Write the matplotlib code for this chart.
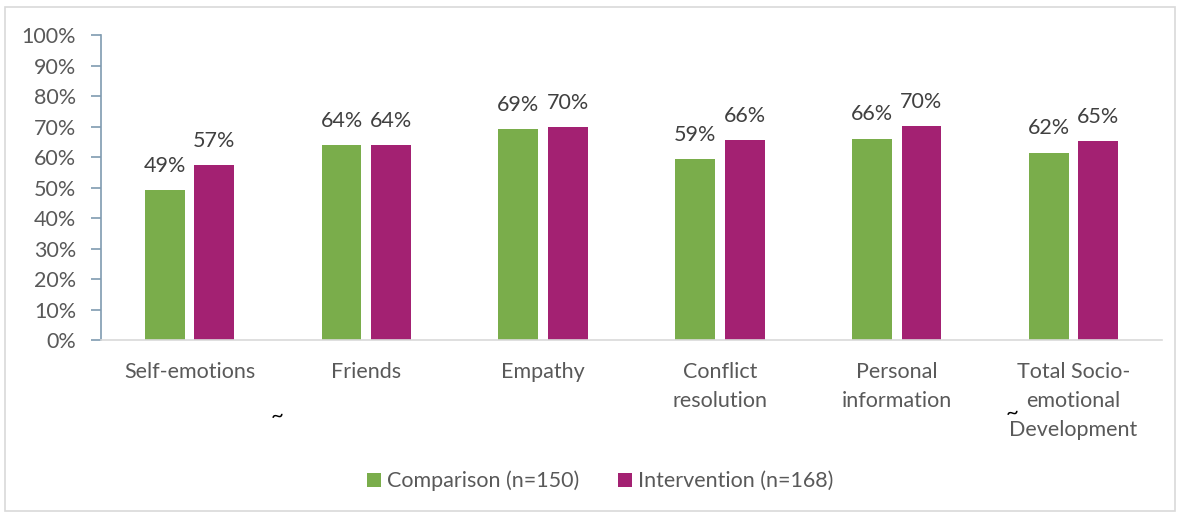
import matplotlib
matplotlib.use('Agg')
import matplotlib.pyplot as plt
import numpy as np
from matplotlib.patches import Rectangle

categories = ['Self-emotions', 'Friends', 'Empathy', 'Conflict\nresolution',
              'Personal\ninformation', 'Total Socio-\nemotional\nDevelopment']
comparison = [49.2, 63.9, 69.1, 59.3, 66.1, 61.5]
intervention = [57.4, 64.0, 69.8, 65.6, 70.2, 65.3]
series_names = ['Comparison (n=150)', 'Intervention (n=168)']
yticks = list(range(0, 101, 10))

GREEN = '#7AAD4B'
PURPLE = '#A32172'
TEXT = '#595959'
FS = 15.5

plt.rcParams['font.family'] = ['Lato', 'DejaVu Sans']

fig = plt.figure(figsize=(11.82, 5.17), dpi=100)
ax = fig.add_axes([0.0855, 0.342, 0.8975, 0.59])

x = np.arange(len(categories))
w = 0.225
off = 0.14
b1 = ax.bar(x - off, comparison, w, color=GREEN, label=series_names[0])
b2 = ax.bar(x + off, intervention, w, color=PURPLE, label=series_names[1])

# value labels above bars
for bars in (b1, b2):
    for r in bars:
        ax.text(r.get_x() + r.get_width() / 2, r.get_height() + 4.7,
                '{:.0f}%'.format(r.get_height()), ha='center', va='bottom',
                fontsize=FS, color='#404040')

ax.set_xlim(-0.5, len(categories) - 0.5)
ax.set_ylim(0, 100)
ax.set_yticks(yticks)
ax.set_yticklabels(['{}%'.format(v) for v in yticks])
ax.set_xticks(x)
ax.set_xticklabels(categories, linespacing=1.55)
ax.tick_params(axis='y', length=7, width=1.2, color='#7F9BB0', pad=11,
               labelsize=FS, labelcolor=TEXT)
ax.tick_params(axis='x', length=0, pad=16, labelsize=FS, labelcolor=TEXT)

for s in ('top', 'right'):
    ax.spines[s].set_visible(False)
ax.spines['left'].set_color('#7F9BB0')
ax.spines['left'].set_linewidth(1.2)
ax.spines['bottom'].set_color('#D9D9D9')
ax.spines['bottom'].set_linewidth(1.2)

# stray tilde marks seen in the source image
fig.text(277 / 1182, 1 - 416 / 517, '~', ha='center', va='center',
         fontsize=16, color='black')
fig.text(1012 / 1182, 1 - 413 / 517, '~', ha='center', va='center',
         fontsize=16, color='black')

fig.legend(loc='center', bbox_to_anchor=(0.508, 1 - 481 / 517), ncol=2,
           frameon=False, fontsize=FS, handlelength=0.62, handleheight=0.62,
           handletextpad=0.3, columnspacing=1.8, labelcolor=TEXT)

fig.patches.append(Rectangle((5 / 1182, 6 / 517), 1170 / 1182, 504 / 517,
                             transform=fig.transFigure, fill=False,
                             edgecolor='#D9D9D9', linewidth=1.2))

fig.savefig('out.png', dpi=100)
